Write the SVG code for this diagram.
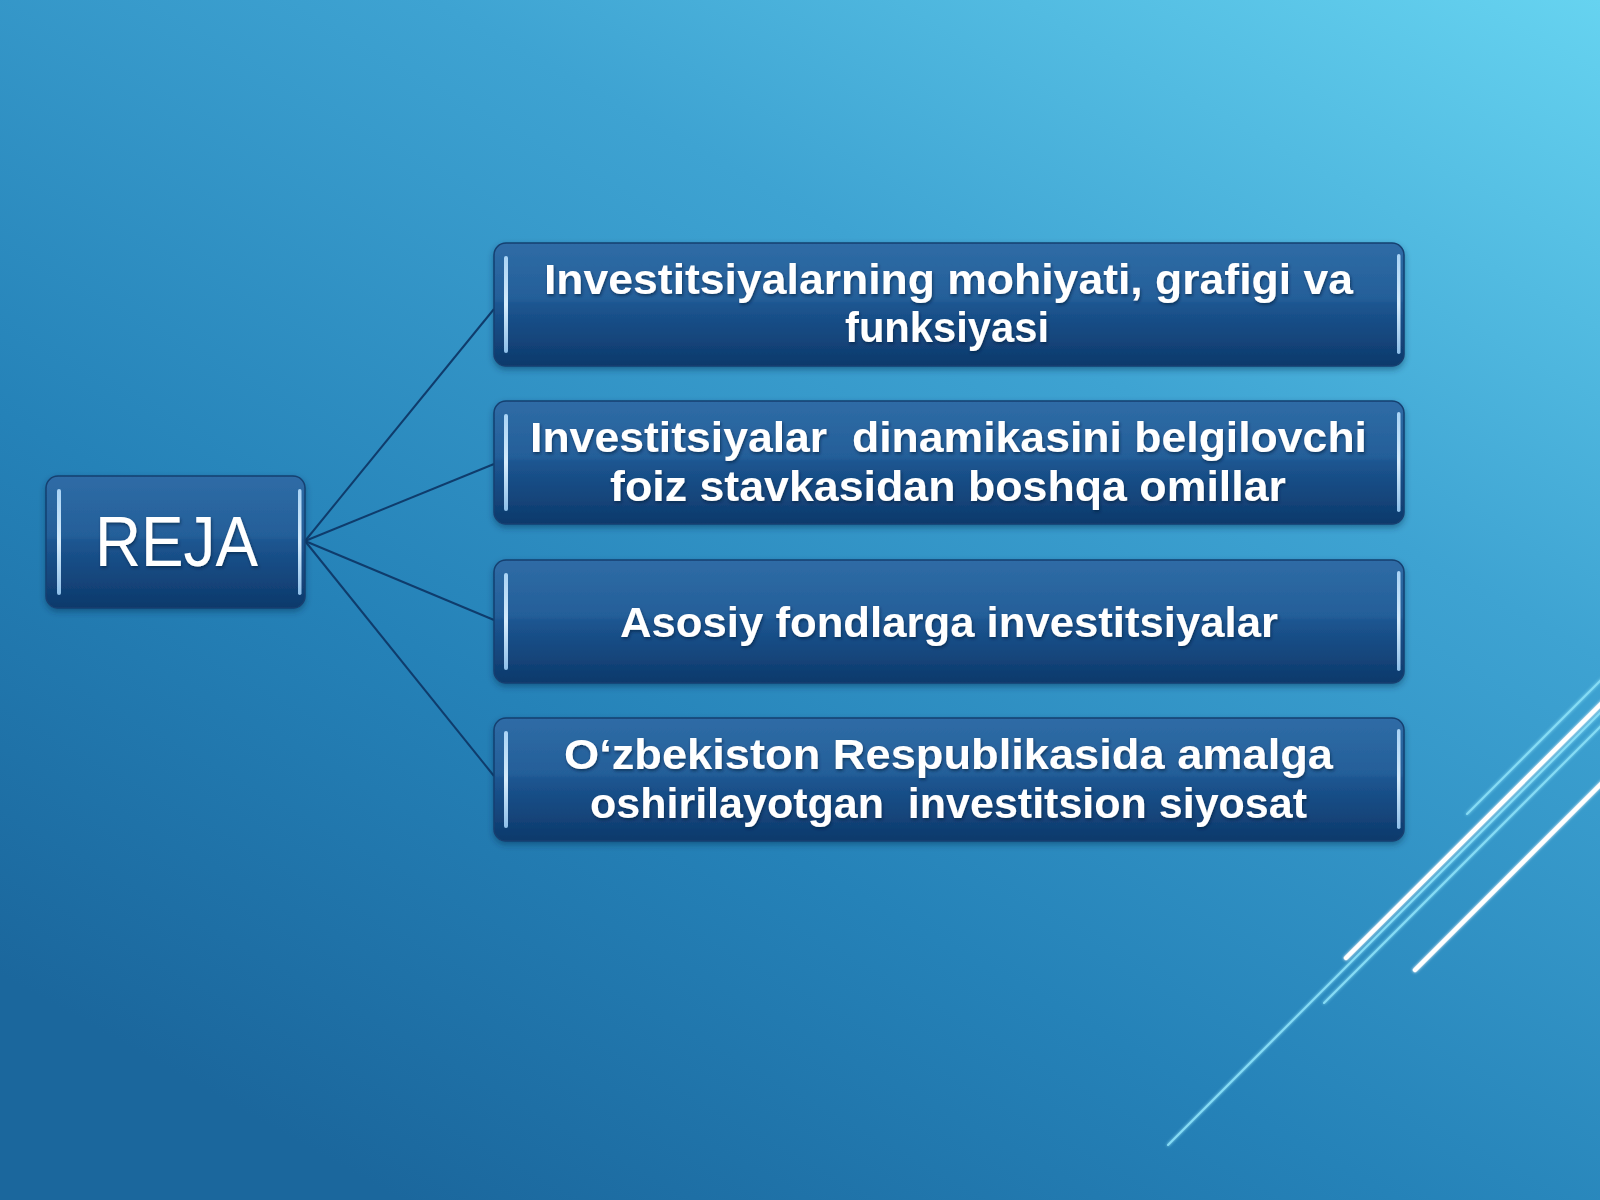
<svg xmlns="http://www.w3.org/2000/svg" width="1600" height="1200" viewBox="0 0 1600 1200">
  <defs>
    <linearGradient id="bg" x1="1" y1="0" x2="0.25" y2="1">
      <stop offset="0" stop-color="#66d3f0"/>
      <stop offset="0.35" stop-color="#3ea3d2"/>
      <stop offset="0.7" stop-color="#2582b8"/>
      <stop offset="1" stop-color="#1b679d"/>
    </linearGradient>
    <linearGradient id="boxfill" x1="0" y1="0" x2="0" y2="1">
      <stop offset="0" stop-color="#2f6ca6"/>
      <stop offset="0.45" stop-color="#245f99"/>
      <stop offset="0.5" stop-color="#1c5590"/>
      <stop offset="1" stop-color="#0d396b"/>
    </linearGradient>
    <linearGradient id="hl" x1="0" y1="0" x2="0" y2="1">
      <stop offset="0" stop-color="#a9d3f5"/>
      <stop offset="0.5" stop-color="#d6ecfc"/>
      <stop offset="1" stop-color="#8ebfe9"/>
    </linearGradient>
    <filter id="shadow" x="-5%" y="-10%" width="110%" height="130%">
      <feDropShadow dx="0" dy="3" stdDeviation="3" flood-color="#0a2a50" flood-opacity="0.45"/>
    </filter>
    <filter id="tshadow" x="-5%" y="-20%" width="110%" height="150%">
      <feDropShadow dx="1" dy="2" stdDeviation="1.5" flood-color="#061d3d" flood-opacity="0.6"/>
    </filter>
    <filter id="glow" x="-10%" y="-10%" width="120%" height="120%">
      <feGaussianBlur stdDeviation="1.5" result="b"/>
      <feMerge><feMergeNode in="b"/><feMergeNode in="SourceGraphic"/></feMerge>
    </filter>
  </defs>
  <style>
    .box { fill: url(#boxfill); stroke: #153f70; stroke-width: 1.5; }
    .hl { fill: url(#hl); }
    .t { font-family: "Liberation Sans", Arial, sans-serif; font-weight: bold; font-size: 43px; fill: #ffffff; text-anchor: middle; filter: url(#tshadow); }
    .reja { font-family: "Liberation Sans", Arial, sans-serif; font-weight: normal; font-size: 71px; fill: #ffffff; text-anchor: middle; filter: url(#tshadow); }
    .conn { stroke: #0f3c6c; stroke-width: 2; fill: none; }
    .thin { stroke: #86dcf5; stroke-width: 2; stroke-linecap: round; }
    .thick { stroke: #ffffff; stroke-width: 4.5; stroke-linecap: round; }
  </style>

  <rect x="0" y="0" width="1600" height="1200" fill="url(#bg)"/>

  <g id="decor" filter="url(#glow)">
    <line class="thin" x1="1602" y1="679" x2="1467" y2="814"/>
    <line class="thick" x1="1602" y1="703" x2="1346" y2="958"/>
    <line class="thin" x1="1602" y1="711" x2="1168" y2="1145"/>
    <line class="thin" x1="1602" y1="725" x2="1324" y2="1003"/>
    <line class="thick" x1="1602" y1="783" x2="1415" y2="970"/>
  </g>

  <g id="connectors">
    <line class="conn" x1="305" y1="541" x2="494" y2="309"/>
    <line class="conn" x1="305" y1="541" x2="494" y2="464"/>
    <line class="conn" x1="305" y1="541" x2="494" y2="620"/>
    <line class="conn" x1="305" y1="541" x2="494" y2="776"/>
  </g>

  <g id="reja">
    <rect class="box" x="46" y="476" width="259" height="132" rx="12" filter="url(#shadow)"/>
    <rect class="hl" x="57" y="489" width="4" height="106" rx="2"/>
    <rect class="hl" x="298" y="489" width="3.5" height="106" rx="1.75"/>
    <text class="reja" x="176.5" y="566" textLength="163" lengthAdjust="spacingAndGlyphs">REJA</text>
  </g>

  <g id="node1">
    <rect class="box" x="494" y="243" width="910" height="123" rx="12" filter="url(#shadow)"/>
    <rect class="hl" x="504" y="256" width="4" height="97" rx="2"/>
    <rect class="hl" x="1397" y="254" width="3.5" height="100" rx="1.75"/>
    <text class="t" x="948.5" y="294" textLength="809" lengthAdjust="spacingAndGlyphs">Investitsiyalarning mohiyati, grafigi va</text>
    <text class="t" x="947" y="342" textLength="204" lengthAdjust="spacingAndGlyphs">funksiyasi</text>
  </g>

  <g id="node2">
    <rect class="box" x="494" y="401" width="910" height="123" rx="12" filter="url(#shadow)"/>
    <rect class="hl" x="504" y="414" width="4" height="97" rx="2"/>
    <rect class="hl" x="1397" y="412" width="3.5" height="100" rx="1.75"/>
    <text class="t" x="948.5" y="452" textLength="837" lengthAdjust="spacingAndGlyphs" xml:space="preserve">Investitsiyalar  dinamikasini belgilovchi</text>
    <text class="t" x="948" y="501" textLength="676" lengthAdjust="spacingAndGlyphs">foiz stavkasidan boshqa omillar</text>
  </g>

  <g id="node3">
    <rect class="box" x="494" y="560" width="910" height="123" rx="12" filter="url(#shadow)"/>
    <rect class="hl" x="504" y="573" width="4" height="97" rx="2"/>
    <rect class="hl" x="1397" y="571" width="3.5" height="100" rx="1.75"/>
    <text class="t" x="949" y="637" textLength="658" lengthAdjust="spacingAndGlyphs">Asosiy fondlarga investitsiyalar</text>
  </g>

  <g id="node4">
    <rect class="box" x="494" y="718" width="910" height="123" rx="12" filter="url(#shadow)"/>
    <rect class="hl" x="504" y="731" width="4" height="97" rx="2"/>
    <rect class="hl" x="1397" y="729" width="3.5" height="100" rx="1.75"/>
    <text class="t" x="948.5" y="769" textLength="769" lengthAdjust="spacingAndGlyphs">O‘zbekiston Respublikasida amalga</text>
    <text class="t" x="948.5" y="818" textLength="717" lengthAdjust="spacingAndGlyphs" xml:space="preserve">oshirilayotgan  investitsion siyosat</text>
  </g>
</svg>
